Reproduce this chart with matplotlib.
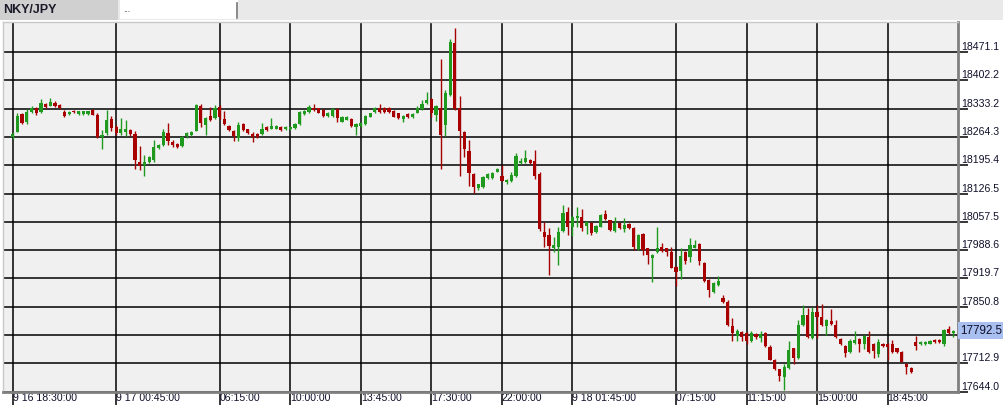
import matplotlib
matplotlib.use('Agg')
import matplotlib.pyplot as plt
from matplotlib.patches import Rectangle
import numpy as np

# NKY/JPY 15 min candles
opens = [18264, 18277, 18320, 18302, 18325, 18336, 18326, 18345, 18341, 18348,
         18342, 18326, 18321, 18328, 18321, 18321, 18321, 18330, 18318, 18264,
         18275, 18308, 18289, 18273, 18276, 18281, 18272, 18204, 18196, 18204,
         18208, 18238, 18245, 18275, 18253, 18247, 18243, 18268, 18270, 18280,
         18341, 18294, 18316, 18310, 18338, 18308, 18291, 18279, 18261, 18295,
         18283, 18272, 18271, 18272, 18288, 18285, 18285, 18290, 18283, 18283,
         18287, 18295, 18320, 18326, 18336, 18334, 18330, 18316, 18316, 18332,
         18302, 18307, 18308, 18290, 18292, 18296, 18314, 18325, 18336, 18336,
         18336, 18328, 18322, 18308, 18320, 18312, 18324, 18332, 18347, 18357,
         18318, 18334, 18294, 18367, 18494, 18334, 18277, 18230, 18174, 18139,
         18143, 18165, 18165, 18180, 18170, 18154, 18157, 18170, 18200, 18204,
         18208, 18206, 18174, 18034, 18026, 17995, 17997, 18036, 18082, 18044,
         18066, 18070, 18048, 18056, 18032, 18046, 18077, 18061, 18036, 18054,
         18039, 18052, 18042, 17992, 18028, 17993, 17970, 17983, 17997, 17993,
         17983, 17948, 17938, 17985, 17971, 17995, 18003, 17958, 17916, 17887,
         17904, 17871, 17861, 17804, 17779, 17790, 17786, 17767, 17784, 17774,
         17786, 17753, 17721, 17698, 17679, 17701, 17749, 17725, 17806, 17831,
         17775, 17837, 17825, 17804, 17816, 17806, 17772, 17755, 17740, 17763,
         17772, 17760, 17776, 17760, 17735, 17761, 17761, 17760, 17749, 17741,
         17711, 17701, 17765, 17759, 17759, 17761, 17770, 17770, 17761, 17796,
         17787]
highs = [18276, 18322, 18324, 18332, 18340, 18338, 18358, 18347, 18359, 18351,
         18344, 18330, 18328, 18330, 18329, 18329, 18329, 18333, 18322, 18282,
         18330, 18316, 18293, 18310, 18307, 18284, 18279, 18243, 18220, 18217,
         18257, 18248, 18283, 18298, 18256, 18249, 18266, 18277, 18279, 18344,
         18345, 18312, 18338, 18342, 18342, 18328, 18294, 18282, 18301, 18298,
         18285, 18276, 18273, 18298, 18291, 18310, 18294, 18292, 18292, 18292,
         18299, 18328, 18330, 18342, 18345, 18336, 18333, 18326, 18334, 18334,
         18316, 18315, 18310, 18298, 18300, 18318, 18324, 18338, 18344, 18338,
         18338, 18330, 18324, 18318, 18322, 18322, 18340, 18354, 18375, 18359,
         18342, 18454, 18378, 18503, 18530, 18364, 18280, 18257, 18176, 18151,
         18170, 18176, 18178, 18189, 18195, 18162, 18178, 18226, 18213, 18233,
         18211, 18233, 18178, 18058, 18043, 18020, 18046, 18099, 18095, 18072,
         18095, 18090, 18060, 18058, 18049, 18076, 18087, 18063, 18070, 18056,
         18068, 18054, 18044, 18028, 18030, 17995, 17979, 18046, 18006, 17995,
         17996, 17950, 17993, 17987, 18018, 18013, 18005, 17960, 17918, 17912,
         17926, 17880, 17866, 17822, 17797, 17792, 17788, 17792, 17787, 17792,
         17789, 17758, 17723, 17700, 17711, 17766, 17751, 17818, 17855, 17847,
         17851, 17856, 17857, 17821, 17846, 17818, 17775, 17757, 17772, 17791,
         17774, 17781, 17792, 17762, 17772, 17763, 17763, 17770, 17751, 17743,
         17713, 17703, 17779, 17767, 17766, 17770, 17772, 17772, 17796, 17803,
         17794]
lows = [18259, 18276, 18295, 18295, 18322, 18318, 18322, 18336, 18339, 18338,
        18332, 18314, 18319, 18323, 18319, 18319, 18319, 18317, 18262, 18235,
        18270, 18280, 18270, 18270, 18266, 18266, 18186, 18184, 18170, 18200,
        18204, 18236, 18243, 18246, 18240, 18238, 18241, 18262, 18268, 18278,
        18290, 18269, 18303, 18308, 18308, 18294, 18278, 18254, 18255, 18278,
        18272, 18253, 18262, 18270, 18279, 18283, 18283, 18278, 18281, 18281,
        18285, 18293, 18318, 18324, 18328, 18322, 18314, 18314, 18314, 18300,
        18300, 18305, 18289, 18269, 18290, 18294, 18312, 18323, 18324, 18324,
        18323, 18312, 18308, 18300, 18310, 18310, 18322, 18330, 18345, 18314,
        18304, 18186, 18267, 18365, 18330, 18170, 18215, 18146, 18127, 18136,
        18141, 18163, 18163, 18178, 18156, 18150, 18155, 18168, 18198, 18202,
        18199, 18161, 18036, 17996, 17928, 17985, 17952, 18034, 18026, 18022,
        18046, 18035, 18027, 18026, 18030, 18044, 18062, 18036, 18034, 18040,
        18032, 18040, 17990, 17990, 17978, 17955, 17912, 17981, 17985, 17975,
        17944, 17902, 17918, 17954, 17960, 17993, 17952, 17912, 17874, 17885,
        17902, 17860, 17804, 17768, 17768, 17766, 17760, 17764, 17773, 17765,
        17752, 17720, 17696, 17670, 17648, 17698, 17712, 17723, 17804, 17775,
        17773, 17775, 17804, 17782, 17806, 17774, 17758, 17728, 17738, 17761,
        17741, 17748, 17738, 17725, 17728, 17753, 17722, 17739, 17739, 17715,
        17686, 17690, 17745, 17757, 17757, 17759, 17762, 17762, 17756, 17785,
        17778]
closes = [18272, 18316, 18298, 18325, 18334, 18322, 18347, 18338, 18350, 18340,
          18335, 18316, 18326, 18325, 18327, 18327, 18327, 18319, 18264, 18269,
          18306, 18286, 18275, 18284, 18284, 18272, 18208, 18194, 18204, 18215,
          18241, 18244, 18277, 18255, 18245, 18241, 18264, 18275, 18277, 18342,
          18299, 18310, 18306, 18334, 18312, 18297, 18281, 18267, 18294, 18281,
          18275, 18264, 18264, 18284, 18281, 18291, 18292, 18281, 18290, 18290,
          18296, 18326, 18328, 18338, 18330, 18324, 18316, 18324, 18332, 18310,
          18314, 18313, 18291, 18296, 18298, 18316, 18322, 18336, 18326, 18326,
          18325, 18314, 18310, 18316, 18312, 18320, 18334, 18345, 18355, 18322,
          18340, 18269, 18372, 18495, 18332, 18280, 18234, 18177, 18142, 18149,
          18168, 18174, 18176, 18186, 18158, 18160, 18172, 18218, 18206, 18214,
          18202, 18170, 18040, 18021, 17998, 18001, 18034, 18078, 18044, 18070,
          18072, 18043, 18058, 18031, 18047, 18074, 18064, 18038, 18056, 18042,
          18050, 18042, 17996, 18026, 17989, 17977, 17977, 17993, 17987, 17983,
          17946, 17936, 17974, 17963, 18001, 18001, 17961, 17914, 17891, 17908,
          17914, 17863, 17806, 17786, 17792, 17778, 17766, 17786, 17776, 17784,
          17755, 17722, 17698, 17682, 17703, 17745, 17725, 17806, 17831, 17778,
          17839, 17826, 17806, 17818, 17809, 17776, 17760, 17737, 17768, 17770,
          17761, 17779, 17740, 17742, 17765, 17755, 17752, 17741, 17741, 17717,
          17703, 17692, 17755, 17765, 17764, 17768, 17764, 17764, 17794, 17787,
          17792.5]

time_ticks = [0, 22, 44, 59, 74, 89, 104, 119, 141, 156, 171, 186]
time_labels = ['9 16 18:30:00', '9 17 00:45:00', '06:15:00', '10:00:00',
               '13:45:00', '17:30:00', '22:00:00', '9 18 01:45:00',
               '07:15:00', '11:15:00', '15:00:00', '18:45:00']
price_ticks = [17712.9, 17781.9, 17850.8, 17919.7, 17988.6, 18057.5,
               18126.5, 18195.4, 18264.3, 18333.2, 18402.2, 18471.1]
bottom_label = 17644.0
last_price = 17792.5

plt.rcParams['font.family'] = ['Liberation Sans', 'DejaVu Sans']

W, H = 1004, 416
fig = plt.figure(figsize=(W / 100, H / 100), dpi=100, facecolor='white')

# tab bar on top
fig.patches.append(Rectangle((0, 1 - 20 / H), 1, 20 / H, transform=fig.transFigure,
                             facecolor='#e9e9e9', edgecolor='none'))
fig.patches.append(Rectangle((0, 1 - 20 / H), 118 / W, 20 / H, transform=fig.transFigure,
                             facecolor='#d0d0d0', edgecolor='none'))
fig.patches.append(Rectangle((120 / W, 1 - 19 / H), 118 / W, 19 / H, transform=fig.transFigure,
                             facecolor='white', edgecolor='none'))
fig.lines.append(plt.Line2D([237.5 / W, 237.5 / W], [1 - 18 / H, 1 - 3 / H],
                            transform=fig.transFigure, color='#777777', lw=1.2))
fig.text(3 / W, 1 - 10 / H, 'NKY/JPY', fontsize=9, fontweight='bold',
         color='#1a1a2a', va='center', ha='left')
fig.text(123 / W, 1 - 11 / H, '...', fontsize=6, color='#333333', va='center', ha='left')

ax = fig.add_axes([3 / W, (H - 392) / H, (958 - 3) / W, (392 - 22) / H])
ax.set_facecolor('#f0f0f0')

x = np.arange(len(opens))
o = np.array(opens)
c = np.array(closes)
up = c >= o
colors = np.where(up, '#1f9a1f', '#a80000')

ax.vlines(x, lows, highs, colors=colors, linewidth=1, zorder=3)
body_lo = np.minimum(o, c)
body_h = np.maximum(np.abs(c - o), 2.0)
ax.bar(x, body_h, bottom=body_lo, width=0.68, color=colors, linewidth=0, zorder=4)

ax.set_xlim(-2.06, 200.96)
ax.set_ylim(17642.8, 18544.8)

ax.set_xticks(time_ticks)
ax.set_xticklabels(time_labels)
ax.set_yticks(price_ticks + [bottom_label])
ax.set_yticklabels(['%.1f' % v for v in price_ticks] + ['%.1f' % bottom_label])
ax.yaxis.tick_right()
ax.grid(True, color='black', linewidth=1.1)
ax.set_axisbelow(True)

ax.tick_params(axis='y', direction='out', length=7.5, width=1.1, color='black',
               pad=-5.5, labelsize=7.6, labelcolor='#10102a')
ax.tick_params(axis='x', direction='out', length=9.5, width=1.1, color='black',
               pad=-8.5, labelsize=7.6, labelcolor='#10102a')
for lbl in ax.get_yticklabels():
    lbl.set_va('bottom')
for lbl in ax.get_xticklabels():
    lbl.set_ha('left')
    lbl.set_va('top')

for side in ['top', 'left']:
    ax.spines[side].set_color('#c8c8c8')
    ax.spines[side].set_linewidth(1)
for side in ['right', 'bottom']:
    ax.spines[side].set_color('#808080')
    ax.spines[side].set_linewidth(2)

# current price tag
ax.annotate('%.1f' % last_price, xy=(1, last_price), xycoords=('axes fraction', 'data'),
            xytext=(1.5, 0), textcoords='offset points', ha='left', va='center',
            fontsize=8.4, color='#10102a', zorder=10, annotation_clip=False,
            bbox=dict(boxstyle='square,pad=0.22', facecolor='#a9bff0', edgecolor='none'))

fig.savefig('out.png', dpi=100, facecolor='white')
